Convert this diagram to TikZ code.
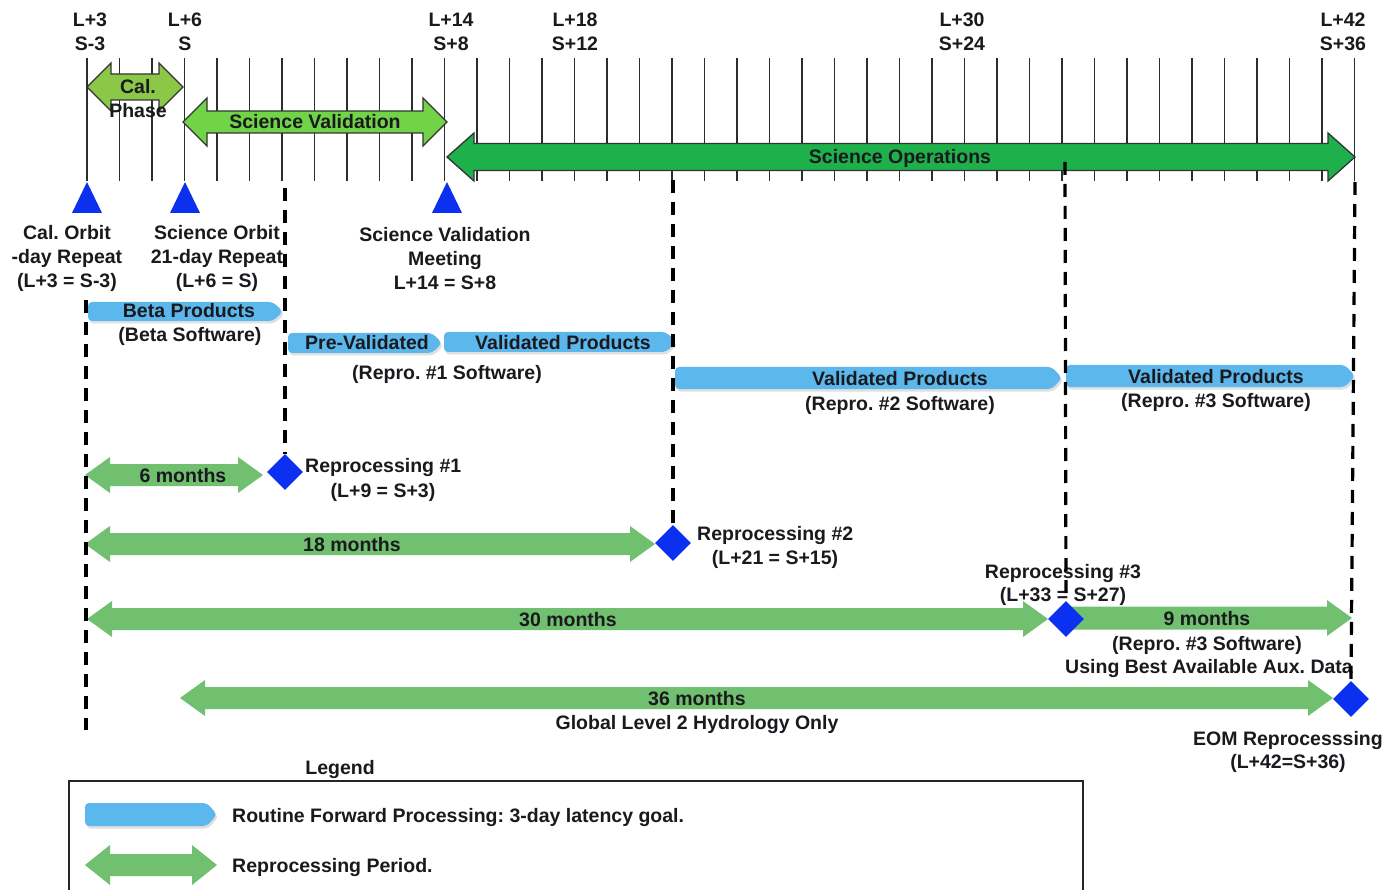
\documentclass[tikz,border=0pt]{standalone}
\usepackage{fontspec}
\setmainfont{Liberation Sans}
\usetikzlibrary{shapes.geometric,shadows}
\frenchspacing
\definecolor{txt}{RGB}{25,25,30}
\definecolor{tickc}{RGB}{45,45,45}
\definecolor{calgreen}{RGB}{140,200,72}
\definecolor{svgreen}{RGB}{112,212,70}
\definecolor{opgreen}{RGB}{30,176,74}
\definecolor{repgreen}{RGB}{112,192,112}
\definecolor{prodblue}{RGB}{92,184,236}
\definecolor{mkblue}{RGB}{12,48,240}
\newcommand\lbl{\bfseries\fontsize{19.5}{24}\selectfont\frenchspacing}
% double arrow: style, x1, x2, y, body half, head half, head length
\newcommand\dblarr[7]{\path[#1] (#2,#4) -- ({#2+#7},{#4-#6}) -- ({#2+#7},{#4-#5}) -- ({#3-#7},{#4-#5}) -- ({#3-#7},{#4-#6}) -- (#3,#4) -- ({#3-#7},{#4+#6}) -- ({#3-#7},{#4+#5}) -- ({#2+#7},{#4+#5}) -- ({#2+#7},{#4+#6}) -- cycle;}
% single arrow with flat left end
\newcommand\sglarr[7]{\path[#1] (#2,{#4-#5}) -- ({#3-#7},{#4-#5}) -- ({#3-#7},{#4-#6}) -- (#3,#4) -- ({#3-#7},{#4+#6}) -- ({#3-#7},{#4+#5}) -- (#2,{#4+#5}) -- cycle;}
% blue product bar: x1, x2, ytop, ybottom
\newcommand\pbar[4]{\path[prodbar] (#1,#3) -- ({#2-10},#3) -- (#2,{(#3+#4)/2}) -- ({#2-10},#4) -- (#1,#4) -- cycle;}
\tikzset{
  lab/.style={font=\lbl, text=txt, inner sep=0pt, text height=16pt, text depth=2pt},
  mlab/.style={font=\lbl, text=txt, inner sep=0pt, align=center, yshift=-1.5pt},
  tickline/.style={draw=tickc, line width=1.6pt},
  marker/.style={draw=black, line width=3.2pt, dash pattern=on 13pt off 9pt},
  phasearrow/.style={draw=black!80, line width=1.3pt, line join=miter},
  reparrow/.style={fill=repgreen},
  prodbar/.style={fill=prodblue, rounded corners=4pt, drop shadow={shadow xshift=1.5pt, shadow yshift=-2.5pt, opacity=0.25, fill=black!50}},
  repdiamond/.style={diamond, fill=mkblue, minimum width=36pt, minimum height=36pt, inner sep=0pt},
}
\begin{document}
\begin{tikzpicture}[x=1pt,y=-1pt]
\useasboundingbox (0,0) rectangle (1389,890);

% top labels
\node[mlab] (t3)  at (90,30)   {L+3\\S-3};
\node[mlab] (t6)  at (185,30)  {L+6\\S};
\node[mlab] (t14) at (451,30)  {L+14\\S+8};
\node[mlab] (t18) at (575,30)  {L+18\\S+12};
\node[mlab] (t30) at (962,30)  {L+30\\S+24};
\node[mlab] (t42) at (1343,30) {L+42\\S+36};

% month tick lines
\foreach \m in {3,...,42}{
  \draw[tickline] ({87+(\m-3)*32.5},58) -- ({87+(\m-3)*32.5},181);
}

% phase arrows
\dblarr{phasearrow, fill=calgreen}{87}{183}{87}{13}{24}{24}
\node[lab] (cal) at (138,87) {Cal.};
\node[lab] (phase) at (138,111) {Phase};
\dblarr{phasearrow, fill=svgreen}{183}{447}{122}{11}{24}{24}
\node[lab] (sv) at (315,122) {Science Validation};
\dblarr{phasearrow, fill=opgreen}{447}{1355}{157}{13.5}{24}{27}
\node[lab] (so) at (900,157) {Science Operations};

% blue triangles
\foreach \x in {87,185,447}{
  \fill[mkblue] (\x,182) -- ({\x+15},213) -- ({\x-15},213) -- cycle;
}
\node[mlab] (calorbit) at (67,257) {Cal. Orbit\\-day Repeat\\(L+3 = S-3)};
\node[mlab] (sciorbit) at (217,257) {Science Orbit\\21-day Repeat\\(L+6 = S)};
\node[mlab] (svmeet) at (445,257) {Science Validation\\Meeting\\L+14 = S+8};

% product bars
\pbar{88}{283}{302}{321}
\node[lab] (beta) at (189,311) {Beta Products};
\node[lab] (betasw) at (190,335) {(Beta Software)};
\pbar{288}{442}{333}{353}
\node[lab] (preval) at (367,343) {Pre-Validated};
\pbar{444}{676}{332}{352}
\node[lab] (val1) at (563,342) {Validated Products};
\node[lab] (r1sw) at (447,372) {(Repro. \#1 Software)};
\pbar{675}{1062}{367}{389}
\node[lab] (val2) at (900,378) {Validated Products};
\node[lab] (r2sw) at (900,403) {(Repro. \#2 Software)};
\pbar{1066}{1355}{365}{387}
\node[lab] (val3) at (1216,376) {Validated Products};
\node[lab] (r3sw) at (1216,400) {(Repro. \#3 Software)};

% reprocessing arrows
\dblarr{reparrow}{85}{263}{475}{11}{18}{25}
\node[lab] (m6) at (183,475) {6 months};
\dblarr{reparrow}{85}{655}{544}{11}{18}{25}
\node[lab] (m18) at (352,544) {18 months};
\dblarr{reparrow}{87}{1048}{619}{11}{18}{25}
\node[lab] (m30) at (568,619) {30 months};
\sglarr{reparrow}{1070}{1352}{618}{11.5}{18}{25}
\node[lab] (m9) at (1207,618) {9 months};
\node[lab] (m9sw) at (1207,643) {(Repro. \#3 Software)};
\node[lab] (m9aux) at (1209,666) {Using Best Available Aux. Data};
\dblarr{reparrow}{180}{1333}{698}{11}{18}{25}
\node[lab] (m36) at (697,698) {36 months};
\node[lab] (m36g) at (697,722) {Global Level 2 Hydrology Only};

% reprocessing milestones
\node[repdiamond] (r1) at (285,472) {};
\node[repdiamond] (r2) at (673,543) {};
\node[repdiamond] (r3) at (1066,619) {};
\node[repdiamond] (eom) at (1351,699) {};
\node[lab, anchor=west] (r1t) at (305,465) {Reprocessing \#1};
\node[lab] (r1d) at (383,490) {(L+9 = S+3)};
\node[lab, anchor=west] (r2t) at (697,533) {Reprocessing \#2};
\node[lab] (r2d) at (775,557) {(L+21 = S+15)};
\node[lab] (r3t) at (1063,571) {Reprocessing \#3};
\node[lab] (r3d) at (1063,594) {(L+33 = S+27)};
\node[lab] (eomt) at (1288,738) {EOM Reprocesssing};
\node[lab] (eomd) at (1288,761) {(L+42=S+36)};

% dashed milestone lines
\coordinate (d0a) at (86,300);
\coordinate (d0b) at (86,730);
\coordinate (d1) at (285,188);
\coordinate (d2) at (673,180);
\coordinate (d3) at (1065,162);
\coordinate (d4) at (1355,182);
\draw[marker] (d0a) -- (d0b);
\draw[marker] (d1) -- (r1.north);
\draw[marker] (d2) -- (r2.north);
\draw[marker] (d3) -- (r3.north);
\draw[marker] (d4) -- (eom.north);

% legend
\node[lab] (legend) at (340,767) {Legend};
\draw[line width=1.5pt, black!85] (69,890) -- (69,781) -- (1083,781) -- (1083,890);
\pbar{85}{217}{803}{826}
\node[lab, anchor=west] (legblue) at (232,815) {Routine Forward Processing: 3-day latency goal.};
\dblarr{reparrow}{85}{217}{865}{11}{20}{25}
\node[lab, anchor=west] (leggreen) at (232,865) {Reprocessing Period.};
\end{tikzpicture}
\end{document}
